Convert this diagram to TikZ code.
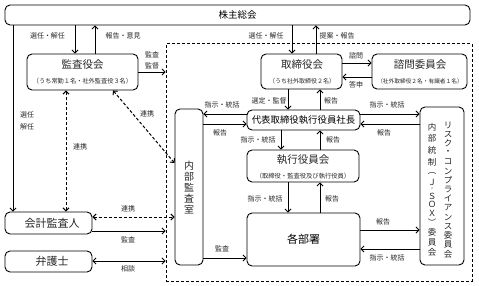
\documentclass[tikz,border=0pt]{standalone}
\usepackage{fontspec}
\setmainfont{Noto Sans CJK JP}
\usetikzlibrary{arrows.meta}
\begin{document}
\begin{tikzpicture}[x=1pt,y=-1pt,
  box/.style={draw, rounded corners=5pt, line width=0.9pt, inner sep=0pt},
  arr/.style={-{Straight Barb[length=3pt,width=6pt]}, line width=0.8pt},
  biarr/.style={{Straight Barb[length=3pt,width=6pt]}-{Straight Barb[length=3pt,width=6pt]}, line width=0.8pt},
  dsh/.style={dash pattern=on 3pt off 2pt, line width=1pt},
  lbl/.style={font=\fontsize{7}{8}\selectfont, inner sep=0pt, text=black!85},
  ttl/.style={font=\fontsize{10.5}{12}\selectfont, inner sep=0pt, text=black!85},
  sub/.style={font=\fontsize{6}{7}\selectfont, inner sep=0pt, text=black!85},
  vch/.style={font=\fontsize{8.5}{9}\selectfont, inner sep=0pt, text=black!85}
]
\useasboundingbox (0,0) rectangle (479,286);

% coordinates for connector positions
\foreach \xx in {13,66,75,95,113,281,288,292,316,320} \coordinate (x\xx) at (\xx,0);
\foreach \yy in {63,77,114,124,163,217,230,231,249,258,261} \coordinate (y\yy) at (0,\yy);

% dashed group
\node[draw, dsh, minimum width=306pt, minimum height=237pt, inner sep=0pt] (grp) at (319,162.5) {};

% boxes
\node[box, minimum width=465pt, minimum height=20pt, font=\fontsize{9.5}{11}\selectfont] (sh) at (237.5,15) {株主総会};
\node[box, minimum width=111pt, minimum height=36pt] (kansa) at (82.5,72) {};
\node[ttl] (kansaT) at (82.5,65) {監査役会};
\node[sub, font=\fontsize{6.2}{7}\selectfont] (kansaS) at (82.5,81) {（うち常勤１名・社外監査役３名）};

\node[box, minimum width=81pt, minimum height=35pt] (tori) at (301.5,71.5) {};
\node[ttl] (toriT) at (302,65) {取締役会};
\node[sub] (toriS) at (302,81) {（うち社外取締役２名）};

\node[box, minimum width=95pt, minimum height=35pt] (shimon) at (419.5,71.5) {};
\node[ttl] (shimonT) at (420,65) {諮問委員会};
\node[sub, font=\fontsize{5.7}{7}\selectfont] (shimonS) at (420,81) {（社外取締役２名・有識者１名）};

\node[box, minimum width=113pt, minimum height=20pt, font=\fontsize{9.4}{11}\selectfont] (shacho) at (303.5,120) {代表取締役執行役員社長};

\node[box, minimum width=112pt, minimum height=32pt] (shikkou) at (303,166) {};
\node[ttl] (shikkouT) at (303,160) {執行役員会};
\node[sub, font=\fontsize{6.3}{7}\selectfont] (shikkouS) at (303,176) {（取締役・監査役及び執行役員）};

\node[box, minimum width=113pt, minimum height=53pt, font=\fontsize{11}{12}\selectfont] (busho) at (303.5,239.5) {各部署};

\node[box, minimum width=44pt, minimum height=158pt] (risk) at (442,186) {};
\foreach \c [count=\i from 0] in {リ,ス,ク,・,コ,ン,プ,ラ,イ,ア,ン,ス,委,員,会}
  \node[vch] (rc\i) at (448,{125+9.2*\i}) {\c};
\foreach \c/\yy/\rot/\fs [count=\i] in {内/127/0/8.5,部/138/0/8.5,統/150/0/8.5,制/162/0/8.5,（/171/-90/8.5,Ｊ/182/0/8.5,・/189/0/5,Ｓ/196/0/8.5,Ｏ/204.8/0/8.5,Ｘ/213.5/0/8.5,）/223/-90/8.5,委/232/0/8.5,員/242/0/8.5,会/252/0/8.5}
  \node[vch, rotate=\rot, font=\fontsize{\fs}{9}\selectfont] (lc\i) at (432,\yy) {\c};

\node[box, minimum width=28pt, minimum height=156pt] (naibu) at (189,187) {};
\node[font=\fontsize{10}{11}\selectfont, align=center, inner sep=0pt, text=black!85] (naibuT) at (189,188) {内\\部\\監\\査\\室};

\node[box, minimum width=87pt, minimum height=22pt] (kaikei) at (48.5,223) {};
\node[ttl, font=\fontsize{11}{12}\selectfont] (kaikeiT) at (52,223) {会計監査人};
\node[box, minimum width=87pt, minimum height=21pt] (bengo) at (48.5,261.5) {};
\node[ttl, font=\fontsize{11}{12}\selectfont] (bengoT) at (52,261.5) {弁護士};

% connectors
\draw[arr] (sh.south -| x13) -- (kaikei.north -| x13);
\draw[arr] (sh.south -| x75) -- (kansa.north -| x75);
\draw[arr] (kansa.north -| x95) -- (sh.south -| x95);
\draw[arr] (kansa.east) -- (kansa.east -| grp.west);
\draw[arr] (sh.south -| x292) -- (tori.north -| x292);
\draw[arr] (tori.north -| x316) -- (sh.south -| x316);
\draw[arr] (tori.east |- y63) -- (shimon.west |- y63);
\draw[arr] (shimon.west |- y77) -- (tori.east |- y77);
\draw[arr] (tori.south -| x288) -- (shacho.north -| x288);
\draw[arr] (shacho.north -| x320) -- (tori.south -| x320);
\draw[arr] (shacho.east |- y114) -- (risk.west |- y114);
\draw[arr] (risk.west |- y124) -- (shacho.east |- y124);
\draw[arr] (shacho.west |- y114) -- (naibu.east |- y114);
\draw[arr] (naibu.east |- y124) -- (shacho.west |- y124);
\draw[arr] (shacho.south -| x281) -- (shikkou.north -| x281);
\draw[arr] (shikkou.north -| x320) -- (shacho.south -| x320);
\draw[arr] (shikkou.south -| x288) -- (busho.north -| x288);
\draw[arr] (busho.north -| x320) -- (shikkou.south -| x320);
\draw[arr] (busho.east |- y230) -- (risk.west |- y230);
\draw[arr] (risk.west |- y249) -- (busho.east |- y249);
\draw[arr] (naibu.east |- y258) -- (busho.west |- y258);
\draw[biarr, dsh] (kansa.south -| x113) -- (naibu.west |- y163);
\draw[biarr, dsh] (kaikei.north -| x66) -- (kansa.south -| x66);
\draw[biarr, dsh] (kaikei.east |- y217) -- (naibu.west |- y217);
\draw[arr] (kaikei.east |- y231) -- (grp.west |- y231);
\draw[biarr] (bengo.east |- y261) -- (grp.west |- y261);

% labels
\node[lbl] (l1) at (47.5,36) {選任・解任};
\node[lbl] (l2) at (123,36) {報告・意見};
\node[lbl] (l3) at (152,55) {監査};
\node[lbl] (l4) at (152,66) {監督};
\node[lbl] (l5) at (266,36) {選任・解任};
\node[lbl] (l6) at (337,36) {提案・報告};
\node[lbl] (l7) at (356,56) {諮問};
\node[lbl] (l8) at (356,85) {答申};
\node[lbl] (l9) at (269,101) {選定・監督};
\node[lbl] (l10) at (331,101) {報告};
\node[lbl] (l11) at (222,105) {指示・統括};
\node[lbl] (l12) at (220,133) {報告};
\node[lbl] (l13) at (387,105) {指示・統括};
\node[lbl] (l14) at (384,133) {報告};
\node[lbl] (l15) at (258,140) {指示・統括};
\node[lbl] (l16) at (333,140) {報告};
\node[lbl] (l17) at (265,199) {指示・統括};
\node[lbl] (l18) at (332,199) {報告};
\node[lbl] (l19) at (383,222) {報告};
\node[lbl] (l20) at (387,258) {指示・統括};
\node[lbl] (l21) at (222,249) {監査};
\node[lbl] (l22) at (27,115) {選任};
\node[lbl] (l23) at (27,127) {解任};
\node[lbl] (l24) at (80,147) {連携};
\node[lbl] (l25) at (147,114) {連携};
\node[lbl] (l26) at (128,209) {連携};
\node[lbl] (l27) at (128,240) {監査};
\node[lbl] (l28) at (128,269) {相談};
\end{tikzpicture}
\end{document}
